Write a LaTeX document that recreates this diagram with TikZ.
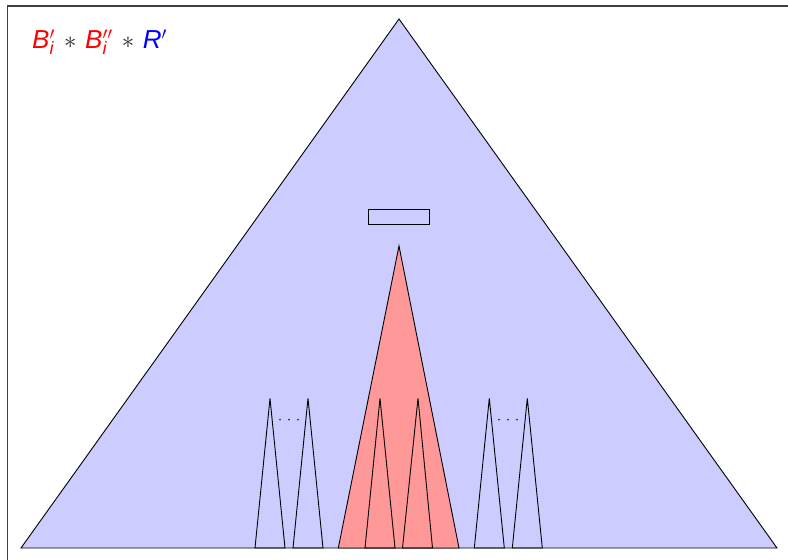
\documentclass[tikz,border=0pt]{standalone}
\usepackage{fontspec}
\setmainfont{Liberation Sans}
\begin{document}
\begin{tikzpicture}[x=1pt,y=-1pt,
  tri/.style={draw=black,line width=0.9pt,line join=miter},
  frameline/.style={draw=black!75,line width=1.4pt}]
\useasboundingbox (0,0) rectangle (788,560);
% frame (cropped)
\draw[frameline] (7.5,560) -- (7.5,6) -- (788,6);
% big triangle
\filldraw[tri,fill={rgb,255:red,204;green,204;blue,255}] (21,548) -- (399,19) -- (777,548) -- cycle;
% rectangle
\draw[tri] (368.5,209) rectangle (429,224);
% red triangle
\filldraw[tri,fill={rgb,255:red,255;green,153;blue,153}] (338.3,548) -- (399,246) -- (459,548) -- cycle;
% small triangles
\foreach \a/\l/\r in {270/255/285, 308/293/323, 380/365/395, 418/402.5/432.5, 489.3/474.3/504.3, 527.3/512.3/542.3}{
  \draw[tri] (\l,548) -- (\a,398.3) -- (\r,548) -- cycle;
}
% dots
\foreach \c in {289,508}{
  \foreach \d in {-9,0,9}{
    \fill[black!80] (\c+\d,419.5) circle (1.0);
  }
}
% label
\node[anchor=base west,inner sep=0pt] (lbl) at (32,48.5) {\fontsize{26}{30}\selectfont
  \textcolor{red}{\textit{B}$^{\prime}_{\textit{\fontsize{18}{20}\selectfont i}}$}\hspace{2pt}
  \textcolor{black!85}{$\ast$}\hspace{1.5pt}
  \textcolor{red}{\textit{B}$^{\prime\prime}_{\textit{\fontsize{18}{20}\selectfont i}}$}\hspace{2pt}
  \textcolor{black!85}{$\ast$}\hspace{1.5pt}
  \textcolor{blue}{\textit{R}$^{\prime}$}};
\end{tikzpicture}
\end{document}
